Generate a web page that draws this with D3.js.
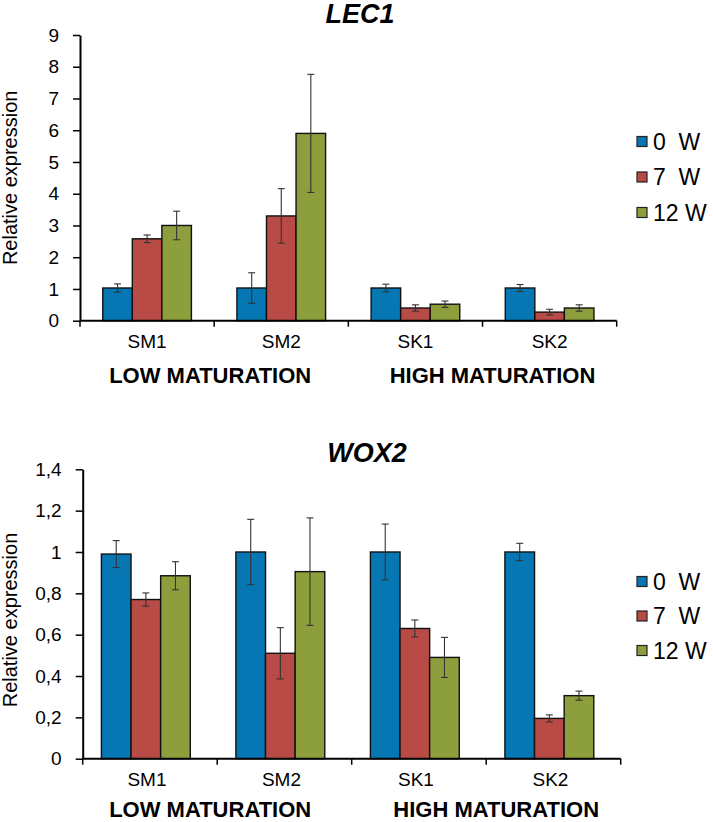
<!DOCTYPE html>
<html>
<head>
<meta charset="utf-8">
<script src="https://cdn.jsdelivr.net/npm/d3@7"></script>
<style>
  html, body { margin: 0; padding: 0; background: #fff; }
  svg text { font-family: "Liberation Sans", Arial, sans-serif; fill: #000; }
</style>
</head>
<body>
<svg id="chart" width="713" height="822"></svg>
<script>
// ---------- data ----------
const categories = ["SM1", "SM2", "SK1", "SK2"];
const seriesNames = ["0  W", "7  W", "12 W"];
const seriesColors = ["#0677b2", "#b84b46", "#8d9f3c"];
const groupLabels = ["LOW MATURATION", "HIGH MATURATION"];

// LEC1
const lec1_0W = [1.03, 1.03, 1.03, 1.03];
const lec1_7W = [2.58, 3.30, 0.40, 0.27];
const lec1_12W = [3.00, 5.90, 0.52, 0.40];
const lec1_err0W = [0.13, 0.48, 0.12, 0.11];
const lec1_err7W = [0.12, 0.86, 0.10, 0.09];
const lec1_err12W = [0.45, 1.86, 0.10, 0.10];
const lec1_ticks = [0, 1, 2, 3, 4, 5, 6, 7, 8, 9];

// WOX2
const wox2_0W = [0.99, 1.00, 1.00, 1.00];
const wox2_7W = [0.77, 0.51, 0.63, 0.195];
const wox2_12W = [0.885, 0.905, 0.49, 0.305];
const wox2_err0W = [0.065, 0.158, 0.135, 0.042];
const wox2_err7W = [0.032, 0.124, 0.041, 0.017];
const wox2_err12W = [0.068, 0.26, 0.097, 0.022];
const wox2_ticks = [0, 0.2, 0.4, 0.6, 0.8, 1.0, 1.2, 1.4];

// ---------- drawing ----------
const svg = d3.select("#chart");

function drawChart(cfg) {
  const g = svg.append("g");
  const x0 = d3.scaleBand().domain(categories).range([cfg.left, cfg.right]).padding(0);
  const x1 = d3.scaleBand().domain(seriesNames).range([0, x0.bandwidth()])
    .paddingInner(0).paddingOuter(0.77).align(cfg.align);
  const y = d3.scaleLinear().domain([0, cfg.ymax]).range([cfg.bottom, cfg.top]);

  const data = [];
  categories.forEach((c, i) => {
    seriesNames.forEach((s, j) => {
      data.push({ cat: c, ser: s, j: j, v: cfg.values[j][i], e: cfg.errors[j][i] });
    });
  });

  // bars
  g.selectAll("rect.bar").data(data).enter().append("rect")
    .attr("class", "bar")
    .attr("x", d => x0(d.cat) + x1(d.ser))
    .attr("y", d => y(d.v))
    .attr("width", x1.bandwidth())
    .attr("height", d => y(0) - y(d.v))
    .attr("fill", d => seriesColors[d.j])
    .attr("stroke", "#111")
    .attr("stroke-width", 1.4);

  // error bars
  const eb = g.selectAll("g.err").data(data).enter().append("g").attr("class", "err");
  const cx = d => x0(d.cat) + x1(d.ser) + x1.bandwidth() / 2;
  eb.append("line")
    .attr("x1", cx).attr("x2", cx)
    .attr("y1", d => y(d.v + d.e)).attr("y2", d => y(d.v - d.e))
    .attr("stroke", "#333").attr("stroke-width", 1.1);
  [1, -1].forEach(sgn => {
    eb.append("line")
      .attr("x1", d => cx(d) - 3.5).attr("x2", d => cx(d) + 3.5)
      .attr("y1", d => y(d.v + sgn * d.e)).attr("y2", d => y(d.v + sgn * d.e))
      .attr("stroke", "#333").attr("stroke-width", 1.1);
  });

  // y axis
  const yAxis = d3.axisLeft(y).tickValues(cfg.ticks)
    .tickSize(7).tickSizeOuter(0).tickPadding(14)
    .tickFormat(cfg.fmt);
  const ya = g.append("g").attr("transform", `translate(${cfg.left},0)`).call(yAxis);
  ya.select(".domain").attr("stroke", "#000").attr("stroke-width", 2);
  ya.selectAll(".tick line").attr("stroke", "#000").attr("stroke-width", 1.5);
  ya.selectAll(".tick text").attr("font-size", 19).attr("font-family", "Liberation Sans, Arial, sans-serif");

  // x axis
  const xa = g.append("g").attr("transform", `translate(0,${cfg.bottom})`);
  xa.append("line").attr("x1", cfg.left).attr("x2", cfg.right)
    .attr("y1", 0).attr("y2", 0).attr("stroke", "#000").attr("stroke-width", 2);
  const bounds = categories.map(c => x0(c)).concat([cfg.right]);
  xa.selectAll("line.xt").data(bounds).enter().append("line")
    .attr("class", "xt")
    .attr("x1", d => d).attr("x2", d => d).attr("y1", 0).attr("y2", 6)
    .attr("stroke", "#000").attr("stroke-width", 1.5);
  xa.selectAll("text.cat").data(categories).enter().append("text")
    .attr("class", "cat")
    .attr("x", d => x0(d) + x0.bandwidth() / 2 + cfg.catShift)
    .attr("y", 27)
    .attr("text-anchor", "middle")
    .attr("font-size", 19)
    .text(d => d);

  // group labels
  groupLabels.forEach((lab, k) => {
    const a = x0(categories[k * 2]), b = x0(categories[k * 2 + 1]) + x0.bandwidth();
    g.append("text")
      .attr("x", (a + b) / 2 + cfg.groupShift[k])
      .attr("y", cfg.bottom + cfg.groupDy)
      .attr("text-anchor", "middle")
      .attr("font-size", 22)
      .attr("font-weight", "bold")
      .text(lab);
  });

  // title
  g.append("text")
    .attr("x", cfg.titleX).attr("y", cfg.titleY)
    .attr("text-anchor", "middle")
    .attr("font-size", 27).attr("font-weight", "bold").attr("font-style", "italic")
    .text(cfg.title);

  // y label
  g.append("text")
    .attr("transform", `translate(17,${(cfg.top + cfg.bottom) / 2 + cfg.ylabShift}) rotate(-90)`)
    .attr("text-anchor", "middle")
    .attr("font-size", 20)
    .text("Relative expression");

  // legend
  const lg = g.append("g");
  seriesNames.forEach((s, j) => {
    const cy = cfg.legendY + j * cfg.legendStep;
    lg.append("rect")
      .attr("x", 637).attr("y", cy - 5)
      .attr("width", 10).attr("height", 10)
      .attr("fill", seriesColors[j]).attr("stroke", "#222").attr("stroke-width", 1.2);
    lg.append("text")
      .attr("x", 653).attr("y", cy + 8.3)
      .attr("font-size", 23)
      .style("white-space", "pre")
      .text(s);
  });
}

drawChart({
  title: "LEC1", titleX: 360, titleY: 23,
  left: 80, right: 616.7, top: 35, bottom: 320.7, ymax: 9,
  ticks: lec1_ticks, fmt: d3.format("d"),
  values: [lec1_0W, lec1_7W, lec1_12W],
  errors: [lec1_err0W, lec1_err7W, lec1_err12W],
  align: 0.5, catShift: 0, groupShift: [-4, 10], ylabShift: 0, groupDy: 62,
  legendY: 141.5, legendStep: 35.5
});

drawChart({
  title: "WOX2", titleX: 367, titleY: 462,
  left: 82.7, right: 620.7, top: 469.3, bottom: 758.7, ymax: 1.4,
  ticks: wox2_ticks, fmt: d => d3.format(".1~f")(d).replace(".", ","),
  values: [wox2_0W, wox2_7W, wox2_12W],
  errors: [wox2_err0W, wox2_err7W, wox2_err12W],
  align: 0.41, catShift: -3, groupShift: [-7, 10], ylabShift: 6, groupDy: 58,
  legendY: 581.5, legendStep: 34.5
});
</script>
</body>
</html>
